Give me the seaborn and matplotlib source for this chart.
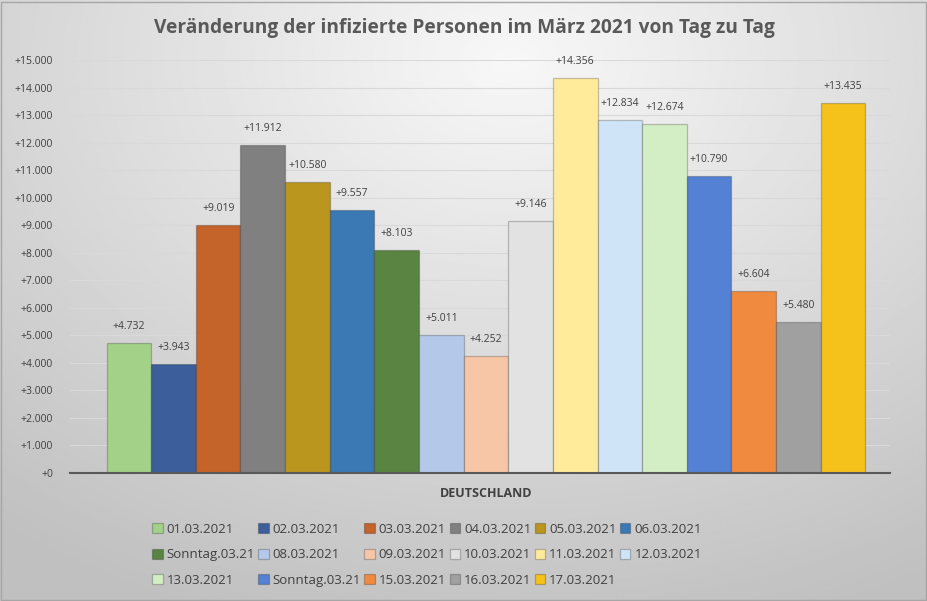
import numpy as np
import pandas as pd
import seaborn as sns
from matplotlib import pyplot as plt
from matplotlib.ticker import FuncFormatter

# Daten: Neuinfektionen Deutschland, 01.03. - 17.03.2021
tage = ["01.03.2021", "02.03.2021", "03.03.2021", "04.03.2021", "05.03.2021",
        "06.03.2021", "07.03.2021", "08.03.2021", "09.03.2021", "10.03.2021",
        "11.03.2021", "12.03.2021", "13.03.2021", "14.03.2021", "15.03.2021",
        "16.03.2021", "17.03.2021"]
legenden_text = ["01.03.2021", "02.03.2021", "03.03.2021", "04.03.2021", "05.03.2021",
                 "06.03.2021", "Sonntag.03.21", "08.03.2021", "09.03.2021", "10.03.2021",
                 "11.03.2021", "12.03.2021", "13.03.2021", "Sonntag.03.21", "15.03.2021",
                 "16.03.2021", "17.03.2021"]
infizierte = [4732, 3943, 9019, 11912, 10580, 9557, 8103, 5011, 4252, 9146,
              14356, 12834, 12674, 10790, 6604, 5480, 13435]
farben = ["#A3D188", "#3C5F9C", "#C4632A", "#808080", "#BB961E", "#3A79B3",
          "#5A8442", "#B4C8EA", "#F7C6A6", "#E2E2E2", "#FFEB99", "#CFE5F7",
          "#D3EDC4", "#5581D4", "#F08A3E", "#A0A0A0", "#F4C21B"]

df = pd.DataFrame({"Land": "DEUTSCHLAND", "Tag": tage, "Infizierte": infizierte})

sns.set_theme(style="white")
plt.rcParams["font.family"] = ["Open Sans", "DejaVu Sans"]

fig = plt.figure(figsize=(9.28, 6.01), dpi=100)

# Hintergrund mit grauem Verlauf
bg = fig.add_axes([0, 0, 1, 1], zorder=-10)
yy, xx = np.mgrid[0:1:300j, 0:1:460j]
r = np.sqrt(((xx - 0.55) / 0.9) ** 2 + ((yy - 0.1) / 1.0) ** 2)
bg.imshow(0.97 - 0.22 * np.clip(r, 0, 1), cmap="gray", vmin=0, vmax=1,
          aspect="auto", extent=[0, 1, 0, 1])
bg.set_axis_off()
bg.add_patch(plt.Rectangle((0.001, 0.002), 0.997, 0.995, fill=False,
                           edgecolor="#A6A6A6", lw=1))

ax = fig.add_axes([0.075, 0.213, 0.884, 0.687])
ax.patch.set_alpha(0)
sns.barplot(data=df, x="Land", y="Infizierte", hue="Tag", palette=farben,
            saturation=1, width=0.8, ax=ax, legend=True,
            edgecolor="#00000038", linewidth=0.9)

for cont, wert in zip(ax.containers, infizierte):
    ax.bar_label(cont, labels=["+" + f"{wert:,}".replace(",", ".")],
                 padding=8, fontsize=7.5, color="#404040")

ax.set_ylim(0, 15000)
ax.set_xlim(-0.439, 0.426)
ax.set_yticks(range(0, 15001, 1000))
ax.yaxis.set_major_formatter(FuncFormatter(lambda v, p: "+" + f"{int(v):,}".replace(",", ".")))
ax.tick_params(axis="y", labelsize=7.5, labelcolor="#404040", pad=12, length=0)
ax.tick_params(axis="x", labelsize=9, labelcolor="#404040", pad=10, length=0)
for t in ax.get_xticklabels():
    t.set_fontweight("bold")
ax.grid(axis="y", color="#D9D9D9", lw=0.8)
ax.set_axisbelow(True)
ax.set_xlabel("")
ax.set_ylabel("")
for s in ["top", "right", "left"]:
    ax.spines[s].set_visible(False)
ax.spines["bottom"].set_color("#595959")
ax.spines["bottom"].set_linewidth(1.5)

# Legende zeilenweise wie im Original
handles, _ = ax.get_legend_handles_labels()
ax.get_legend().remove()
reihenfolge = [0, 6, 12, 1, 7, 13, 2, 8, 14, 3, 9, 15, 4, 10, 16, 5, 11]
fig.legend([handles[i] for i in reihenfolge], [legenden_text[i] for i in reihenfolge],
           loc="upper center", bbox_to_anchor=(0.46, 0.15),
           ncol=6, frameon=False, fontsize=9.5, handlelength=0.8, handleheight=0.8,
           handletextpad=0.3, columnspacing=0.25, labelspacing=0.95,
           labelcolor="#404040")

fig.text(0.5, 0.953, "Veränderung der infizierte Personen im März 2021 von Tag zu Tag",
         ha="center", va="center", fontsize=13.8, fontweight="bold", color="#595959")

fig.savefig("out.png", dpi=100)
